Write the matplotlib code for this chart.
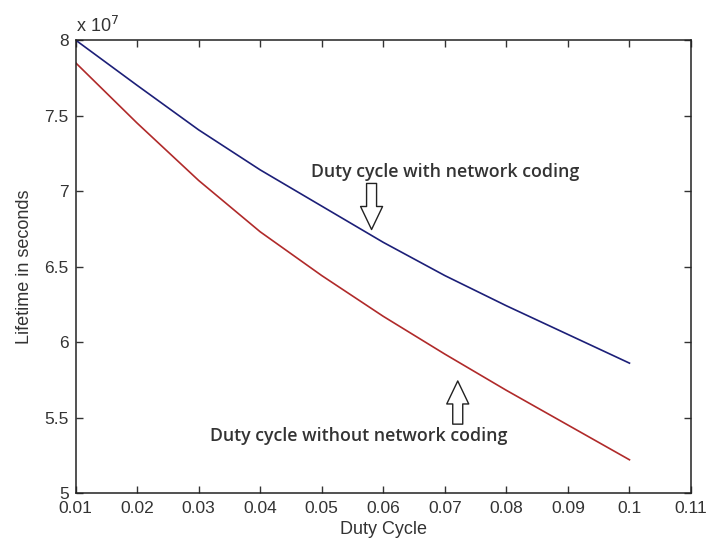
import matplotlib
matplotlib.use("Agg")
import matplotlib.pyplot as plt
from matplotlib.ticker import FuncFormatter

duty_cycle = [0.01, 0.02, 0.03, 0.04, 0.05, 0.06, 0.07, 0.08, 0.09, 0.10]
with_nc = [8.00e7, 7.70e7, 7.405e7, 7.14e7, 6.90e7, 6.66e7, 6.44e7, 6.24e7, 6.05e7, 5.86e7]
without_nc = [7.85e7, 7.45e7, 7.07e7, 6.73e7, 6.44e7, 6.17e7, 5.92e7, 5.68e7, 5.45e7, 5.22e7]
x_ticks = [0.01, 0.02, 0.03, 0.04, 0.05, 0.06, 0.07, 0.08, 0.09, 0.10, 0.11]
y_ticks = [5e7, 5.5e7, 6e7, 6.5e7, 7e7, 7.5e7, 8e7]

plt.rcParams['font.family'] = ['Liberation Sans', 'DejaVu Sans']

fig = plt.figure(figsize=(7.07, 5.42), dpi=100)
ax = fig.add_axes([0.1068, 0.0904, 0.8706, 0.8358])

ax.plot(duty_cycle, with_nc, color='#1c1f78', lw=1.2)
ax.plot(duty_cycle, without_nc, color='#b02a2a', lw=1.2)

ax.set_xlim(0.01, 0.11)
ax.set_ylim(5e7, 8e7)
ax.set_xticks(x_ticks)
ax.set_yticks(y_ticks)
ax.xaxis.set_major_formatter(FuncFormatter(lambda v, p: ('%g' % round(v, 4))))
ax.yaxis.set_major_formatter(FuncFormatter(lambda v, p: ('%g' % round(v / 1e7, 3))))
ax.tick_params(direction='in', top=True, right=True, length=5, width=1, labelsize=12.5, colors='#333333')
ax.tick_params(axis='x', pad=6)
ax.tick_params(axis='y', pad=5)
for s in ax.spines.values():
    s.set_linewidth(1.1)
    s.set_color('#222222')

ax.set_xlabel('Duty Cycle', fontsize=13, labelpad=3, color='#333333')
ax.set_ylabel('Lifetime in seconds', fontsize=13, labelpad=8, color='#333333')
ax.text(0.0, 1.008, r'x 10$^7$', transform=ax.transAxes, fontsize=13, ha='left', va='bottom',
        color='#333333')

ann_font = dict(family=['Open Sans', 'DejaVu Sans'], fontsize=12.8, fontweight='semibold', color='#333333')
ax.text(0.0700, 7.125e7, 'Duty cycle with network coding', ha='center', va='center', **ann_font)
ax.text(0.0560, 5.375e7, 'Duty cycle without network coding', ha='center', va='center', **ann_font)

arrow_style = 'simple,head_length=0.92,head_width=0.88,tail_width=0.4'
ax.annotate('', xy=(0.0581, 6.745e7), xytext=(0.0581, 7.05e7),
            arrowprops=dict(arrowstyle=arrow_style, mutation_scale=18, fc='white', ec='#222222',
                            lw=1.0, shrinkA=0, shrinkB=0))
ax.annotate('', xy=(0.0721, 5.742e7), xytext=(0.0721, 5.456e7),
            arrowprops=dict(arrowstyle=arrow_style, mutation_scale=18, fc='white', ec='#222222',
                            lw=1.0, shrinkA=0, shrinkB=0))

fig.savefig('out.png', dpi=100)
